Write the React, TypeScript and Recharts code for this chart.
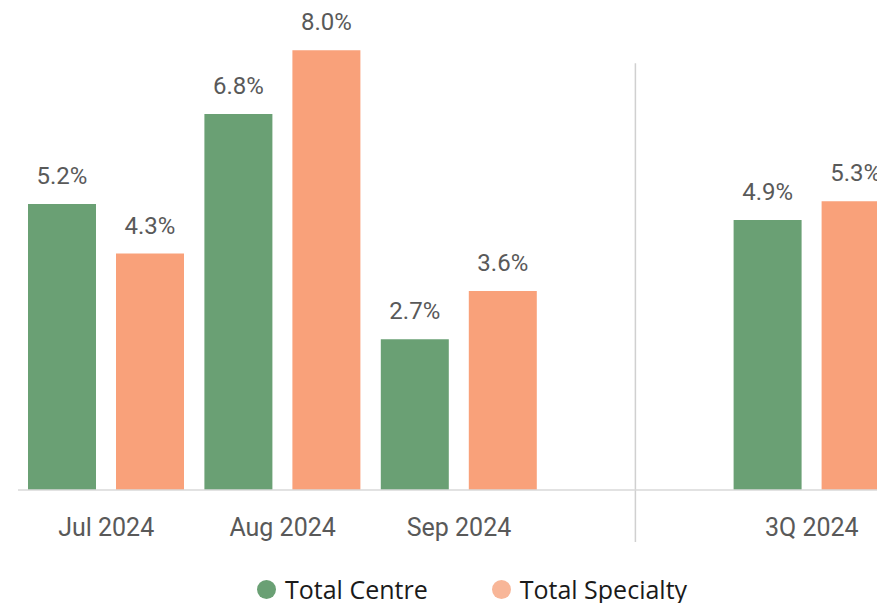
import React from 'react';
import { BarChart, Bar, XAxis, YAxis, LabelList, Legend, ReferenceLine } from 'recharts';

const categories = ['Jul 2024', 'Aug 2024', 'Sep 2024', ' ', '3Q 2024'];
const totalCentre = [5.2, 6.84, 2.74, null, 4.91];
const totalSpecialty = [4.3, 8.0, 3.62, null, 5.25];

const seriesNames = ['Total Centre', 'Total Specialty'];
const barColors = ['#6aa074', '#f9a17a'];
const legendColors = ['#6aa074', '#f8b698'];

const data = categories.map((c, i) => ({
  category: c,
  centre: totalCentre[i],
  specialty: totalSpecialty[i],
}));

const fmt = (v: any) => (v == null ? '' : `${Number(v).toFixed(1)}%`);

const LegendContent = () => (
  <div style={{ display: 'flex', alignItems: 'center', fontFamily: '"Open Sans", sans-serif', fontSize: 25, color: '#1a1a1a', whiteSpace: 'nowrap', lineHeight: '28px', height: 28 }}>
    {seriesNames.map((n, i) => (
      <div key={n} style={{ display: 'flex', alignItems: 'center', marginLeft: i === 0 ? 0 : 64 }}>
        <svg width={19} height={19} style={{ marginRight: 9 }}>
          <circle cx={9.5} cy={9.5} r={9.5} fill={legendColors[i]} />
        </svg>
        <span>{n}</span>
      </div>
    ))}
  </div>
);

export default function App() {
  return (
    <div style={{ width: 869, height: 595, overflow: 'hidden' }}>
      <style>{'html { overflow: hidden; } body { margin: 8px 0 0 8px; }'}</style>
      <BarChart
        width={892}
        height={595}
        data={data}
        margin={{ top: 2, right: 0, left: 10, bottom: 53 }}
        barSize={68}
        barGap={20}
      >
        <XAxis
          dataKey="category"
          axisLine={{ stroke: '#d9d9d9', strokeWidth: 1.5 }}
          tickLine={false}
          tickSize={0}
          tickMargin={28}
          height={60}
          interval={0}
          tick={{ fill: '#595959', fontSize: 25, fontFamily: 'Roboto, sans-serif' }}
        />
        <YAxis hide domain={[0, 8.73]} />
        <ReferenceLine
          segment={[{ x: ' ', y: 7.76 }, { x: ' ', y: -0.945 }]}
          stroke="#d0d0d0"
          strokeWidth={1.5}
          ifOverflow="visible"
        />
        <Bar dataKey="centre" name={seriesNames[0]} fill={barColors[0]} isAnimationActive={false}>
          <LabelList dataKey="centre" position="top" offset={20} formatter={fmt} fill="#595959" fontSize={24} fontFamily="Roboto, sans-serif" />
        </Bar>
        <Bar dataKey="specialty" name={seriesNames[1]} fill={barColors[1]} isAnimationActive={false}>
          <LabelList dataKey="specialty" position="top" offset={20} formatter={fmt} fill="#595959" fontSize={24} fontFamily="Roboto, sans-serif" />
        </Bar>
        <Legend
          layout="horizontal"
          verticalAlign="middle"
          align="center"
          content={<LegendContent />}
          wrapperStyle={{ position: 'absolute', top: 567, left: 249, width: 500, height: 28 }}
        />
      </BarChart>
    </div>
  );
}
